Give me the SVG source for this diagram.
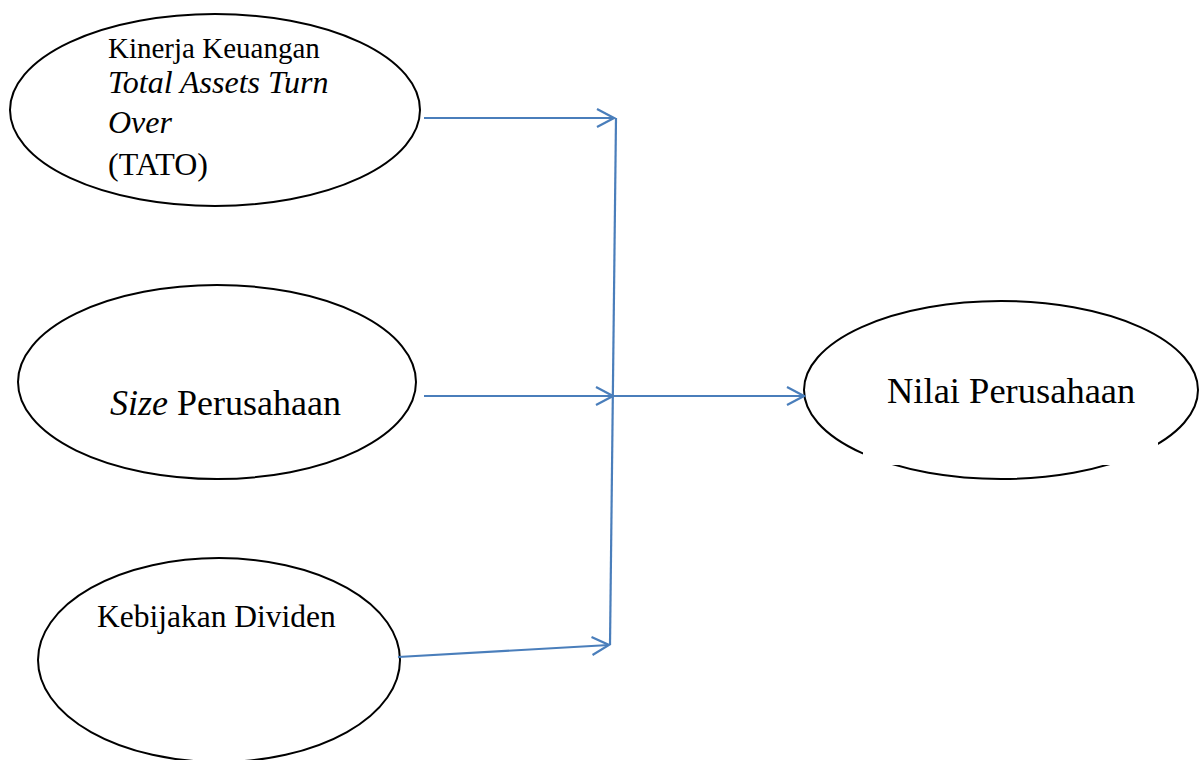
<svg xmlns="http://www.w3.org/2000/svg" width="1200" height="760" viewBox="0 0 1200 760">
<style>
.node ellipse{fill:#fff;stroke:#000;stroke-width:2}
.t{font-family:"Liberation Serif","Times New Roman",serif;fill:#000}
.conn line{stroke:#4a7ebb;stroke-width:2.2;fill:none}
</style>
<defs>
<marker id="arr" viewBox="0 0 20 20" refX="18" refY="10" markerWidth="20" markerHeight="20" markerUnits="userSpaceOnUse" orient="auto">
<path d="M1,1 L18,10 L1,19" fill="none" stroke="#4a7ebb" stroke-width="2.2"/>
</marker>
</defs>
<rect width="1200" height="760" fill="#fff"/>
<g id="n1" class="node">
<ellipse cx="215" cy="110" rx="205" ry="96"/>
<text class="t" x="108" y="58" font-size="29">Kinerja Keuangan</text>
<text class="t" x="108" y="93" font-size="32" font-style="italic">Total Assets Turn</text>
<text class="t" x="108" y="133" font-size="32" font-style="italic">Over</text>
<text class="t" x="108" y="175" font-size="32">(TATO)</text>
</g>
<g id="n2" class="node">
<ellipse cx="217" cy="382" rx="199" ry="97"/>
<text class="t" x="110" y="415" font-size="36"><tspan font-style="italic">Size</tspan> Perusahaan</text>
</g>
<g id="n3" class="node">
<ellipse cx="219" cy="660" rx="181" ry="102"/>
<text class="t" x="97" y="627" font-size="31.5">Kebijakan Dividen</text>
</g>
<g id="n4" class="node">
<ellipse cx="1001" cy="390" rx="197" ry="89"/>
<rect x="863" y="438" width="295" height="27" fill="#fff"/>
<text class="t" x="887" y="403" font-size="36.5">Nilai Perusahaan</text>
</g>
<g id="connectors" class="conn">
<line x1="424" y1="118" x2="614" y2="118" marker-end="url(#arr)"/>
<line x1="616" y1="118" x2="610" y2="645"/>
<line x1="424" y1="396" x2="613" y2="396" marker-end="url(#arr)"/>
<line x1="613" y1="396" x2="804" y2="396" marker-end="url(#arr)"/>
<line x1="398" y1="657" x2="609" y2="645" marker-end="url(#arr)"/>
</g>
</svg>
